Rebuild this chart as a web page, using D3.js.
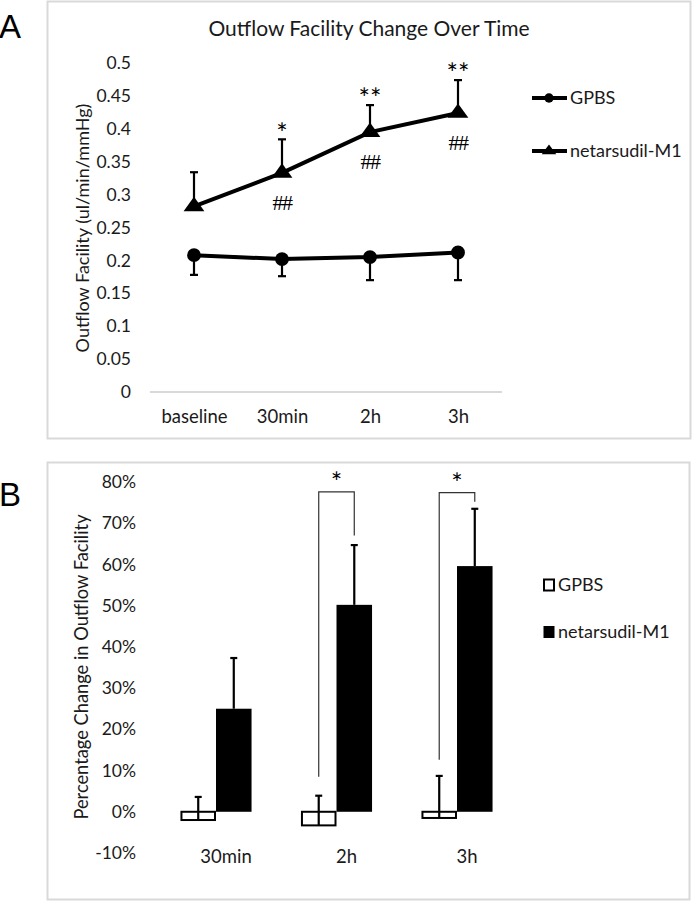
<!DOCTYPE html>
<html><head><meta charset="utf-8">
<script src="https://cdn.jsdelivr.net/npm/d3@7"></script>
<style>
html,body{margin:0;padding:0;background:#fff;}
svg{display:block;}
text{font-family:Lato,"Open Sans",sans-serif;fill:#1a1a1a;}
</style></head>
<body>
<script>
// ---------- Panel A data ----------
const categoriesA = ["baseline", "30min", "2h", "3h"];
const gpbsA = [0.208, 0.202, 0.205, 0.212];
const gpbsErrA = [0.030, 0.026, 0.035, 0.042];
const netA = [0.282, 0.333, 0.395, 0.424];
const netErrA = [0.052, 0.051, 0.041, 0.050];
const starsA = ["", "*", "**", "**"];
const hashA = ["", "##", "##", "##"];
const ticksA = [0, 0.05, 0.1, 0.15, 0.2, 0.25, 0.3, 0.35, 0.4, 0.45, 0.5];
const seriesNames = ["GPBS", "netarsudil-M1"];

// ---------- Panel B data ----------
const categoriesB = ["30min", "2h", "3h"];
const gpbsB = [-2.0, -3.3, -1.5];
const gpbsErrB = [5.6, 7.2, 10.2];
const netB = [25.0, 50.2, 59.6];
const netErrB = [12.3, 14.5, 13.9];
const ticksB = [-10, 0, 10, 20, 30, 40, 50, 60, 70, 80];
// significance brackets: left leg bottom, top, right leg bottom (in % units)
const bracketCats = ["2h", "3h"];
const bracketLeft = [8.5, 12.6];
const bracketTop = [77.6, 77.4];
const bracketRight = [67.0, 75.2];
const bracketLabel = ["*", "*"];

const W = 692, H = 901;
const svg = d3.select("body").append("svg").attr("width", W).attr("height", H);

// Panel frames
svg.append("rect").attr("x", 47.5).attr("y", 1.5).attr("width", 643).attr("height", 437)
  .attr("fill", "none").attr("stroke", "#d9d9d9").attr("stroke-width", 2);
svg.append("rect").attr("x", 47.5).attr("y", 462.5).attr("width", 642).attr("height", 437)
  .attr("fill", "none").attr("stroke", "#d9d9d9").attr("stroke-width", 2);

// Panel letters
svg.append("text").attr("x", -1).attr("y", 38).text("A")
  .style("font-family", "'Liberation Sans',Arial,sans-serif").style("font-size", "33px").style("fill", "#000");
svg.append("text").attr("x", -1).attr("y", 506).text("B")
  .style("font-family", "'Liberation Sans',Arial,sans-serif").style("font-size", "33px").style("fill", "#000");

// ================= Panel A =================
const gA = svg.append("g");
const xA = d3.scalePoint().domain(categoriesA).range([150, 502]).padding(0.5);
const yA = d3.scaleLinear().domain([0, 0.5]).range([392, 63]);

gA.append("text").attr("x", 369).attr("y", 29).attr("dy", "0.35em").attr("text-anchor", "middle")
  .style("font-size", "21px").text("Outflow Facility Change Over Time");

// y axis labels
const axA = d3.axisLeft(yA).tickValues(ticksA).tickSize(0).tickPadding(0)
  .tickFormat(d => d3.format("")(+d.toFixed(2)));
const gyA = gA.append("g").attr("transform", "translate(131,0)").call(axA);
gyA.select(".domain").remove();
gyA.selectAll("text").style("font-size", "17.5px").style("font-family", "Lato,sans-serif").attr("fill", "#1a1a1a");

// x axis
const axXA = d3.axisBottom(xA).tickSize(0).tickPadding(0);
const gxA = gA.append("g").attr("transform", "translate(0,392)").call(axXA);
gxA.select(".domain").attr("stroke", "#d9d9d9").attr("stroke-width", 2).attr("d", "M150,0H502");
gxA.selectAll("text").attr("y", 25).attr("dy", "0.35em").style("font-size", "18.5px")
  .style("font-family", "Lato,sans-serif").attr("fill", "#1a1a1a");

// y title
gA.append("text").attr("transform", "translate(83,228) rotate(-90)").attr("dy", "0.35em").attr("text-anchor", "middle")
  .style("font-size", "18px").text("Outflow Facility (ul/min/mmHg)");

// error bars
function errBar(g, x, y1, y2, capW, sw) {
  g.append("line").attr("x1", x).attr("x2", x).attr("y1", y1).attr("y2", y2)
    .attr("stroke", "#000").attr("stroke-width", sw);
  g.append("line").attr("x1", x - capW / 2).attr("x2", x + capW / 2).attr("y1", y2).attr("y2", y2)
    .attr("stroke", "#000").attr("stroke-width", sw);
}
categoriesA.forEach((c, i) => {
  errBar(gA, xA(c), yA(gpbsA[i]), yA(gpbsA[i] - gpbsErrA[i]), 8, 2.2);
  errBar(gA, xA(c), yA(netA[i]), yA(netA[i] + netErrA[i]), 8, 2.2);
});

const line = d3.line().x((d, i) => xA(categoriesA[i])).y(d => yA(d));
gA.append("path").datum(gpbsA).attr("d", line).attr("fill", "none").attr("stroke", "#000").attr("stroke-width", 4);
gA.append("path").datum(netA).attr("d", line).attr("fill", "none").attr("stroke", "#000").attr("stroke-width", 4);

const circ = d3.symbol().type(d3.symbolCircle).size(150);
const tri = d3.symbol().type(d3.symbolTriangle).size(120);
gA.selectAll(".mc").data(gpbsA).join("path")
  .attr("transform", (d, i) => `translate(${xA(categoriesA[i])},${yA(d)})`).attr("d", circ).attr("fill", "#000");
gA.selectAll(".mt").data(netA).join("path")
  .attr("transform", (d, i) => `translate(${xA(categoriesA[i])},${yA(d)}) scale(1.25,1)`).attr("d", tri).attr("fill", "#000");

// significance marks
categoriesA.forEach((c, i) => {
  if (starsA[i]) gA.append("text").attr("x", xA(c)).attr("y", yA(netA[i] + netErrA[i]) - 17).attr("dy", "0.75em")
    .attr("text-anchor", "middle").style("font-size", "27px").style("fill", "#000").text(starsA[i]);
  if (hashA[i]) gA.append("text").attr("x", xA(c)).attr("y", yA(netA[i]) + 29).attr("dy", "0.35em")
    .attr("text-anchor", "middle").style("font-family", "'Liberation Serif',serif").style("font-size", "22px")
    .style("letter-spacing", "-1.5px").style("fill", "#000").text(hashA[i]);
});

// legend A
const legA = gA.append("g");
seriesNames.forEach((s, i) => {
  const ly = 98 + i * 53;
  legA.append("line").attr("x1", 532).attr("x2", 567).attr("y1", ly).attr("y2", ly).attr("stroke", "#000").attr("stroke-width", 4);
  legA.append("path").attr("transform", `translate(549,${ly})` + (i ? " scale(1.3,1)" : ""))
    .attr("d", i ? d3.symbol().type(d3.symbolTriangle).size(55)() : d3.symbol().type(d3.symbolCircle).size(70)())
    .attr("fill", "#000");
  legA.append("text").attr("x", 570).attr("y", ly).attr("dy", "0.35em").style("font-size", "18px").text(s);
});

// ================= Panel B =================
const gB = svg.append("g");
const xB = d3.scaleBand().domain(categoriesB).range([155.75, 517.25]).paddingInner(0.41).paddingOuter(0.205);
const xSub = d3.scaleBand().domain(seriesNames).range([0, xB.bandwidth()]);
const yB = d3.scaleLinear().domain([-10, 80]).range([853, 482]);

const axB = d3.axisLeft(yB).tickValues(ticksB).tickSize(0).tickPadding(0).tickFormat(d => d + "%");
const gyB = gB.append("g").attr("transform", "translate(136,0)").call(axB);
gyB.select(".domain").remove();
gyB.selectAll("text").style("font-size", "17.5px").style("font-family", "Lato,sans-serif").attr("fill", "#1a1a1a");

gB.append("text").attr("transform", "translate(82,667) rotate(-90)").attr("dy", "0.35em").attr("text-anchor", "middle")
  .style("font-size", "18.3px").text("Percentage Change in Outflow Facility");

// category labels
categoriesB.forEach(c => {
  gB.append("text").attr("x", xB(c) + xB.bandwidth() / 2 + 10).attr("y", 857).attr("dy", "0.35em")
    .attr("text-anchor", "middle").style("font-size", "18.5px").text(c);
});

// bars
categoriesB.forEach((c, i) => {
  const x0 = xB(c);
  const bw = xSub.bandwidth();
  const gx = x0 + xSub("GPBS");
  gB.append("rect").attr("x", gx + 1).attr("width", bw - 2)
    .attr("y", Math.min(yB(0), yB(gpbsB[i]))).attr("height", Math.abs(yB(gpbsB[i]) - yB(0)))
    .attr("fill", "#fff").attr("stroke", "#000").attr("stroke-width", 2);
  const nx = x0 + xSub("netarsudil-M1");
  gB.append("rect").attr("x", nx).attr("width", bw)
    .attr("y", yB(netB[i])).attr("height", yB(0) - yB(netB[i])).attr("fill", "#000");
  errBar(gB, gx + bw / 2, yB(gpbsB[i]), yB(gpbsB[i] + gpbsErrB[i]), 7, 2.2);
  errBar(gB, nx + bw / 2, yB(netB[i]), yB(netB[i] + netErrB[i]), 7, 2.2);
});

// brackets
bracketCats.forEach((c, i) => {
  const lx = xB(c) + xSub("GPBS") + xSub.bandwidth() / 2;
  const rx = xB(c) + xSub("netarsudil-M1") + xSub.bandwidth() / 2;
  gB.append("path")
    .attr("d", `M${lx},${yB(bracketLeft[i])}V${yB(bracketTop[i])}H${rx}V${yB(bracketRight[i])}`)
    .attr("fill", "none").attr("stroke", "#333").attr("stroke-width", 1.2);
  gB.append("text").attr("x", (lx + rx) / 2).attr("y", yB(bracketTop[i]) - 20).attr("dy", "0.75em").attr("text-anchor", "middle")
    .style("font-size", "27px").style("fill", "#000").text(bracketLabel[i]);
});

// legend B
seriesNames.forEach((s, i) => {
  const ly = 585 + i * 47;
  gB.append("rect").attr("x", 544).attr("y", ly - 5.5).attr("width", 10).attr("height", 11)
    .attr("fill", i ? "#000" : "#fff").attr("stroke", "#000").attr("stroke-width", i ? 1 : 2);
  gB.append("text").attr("x", 558).attr("y", ly).attr("dy", "0.35em").style("font-size", "18px").text(s);
});
</script>
</body></html>
